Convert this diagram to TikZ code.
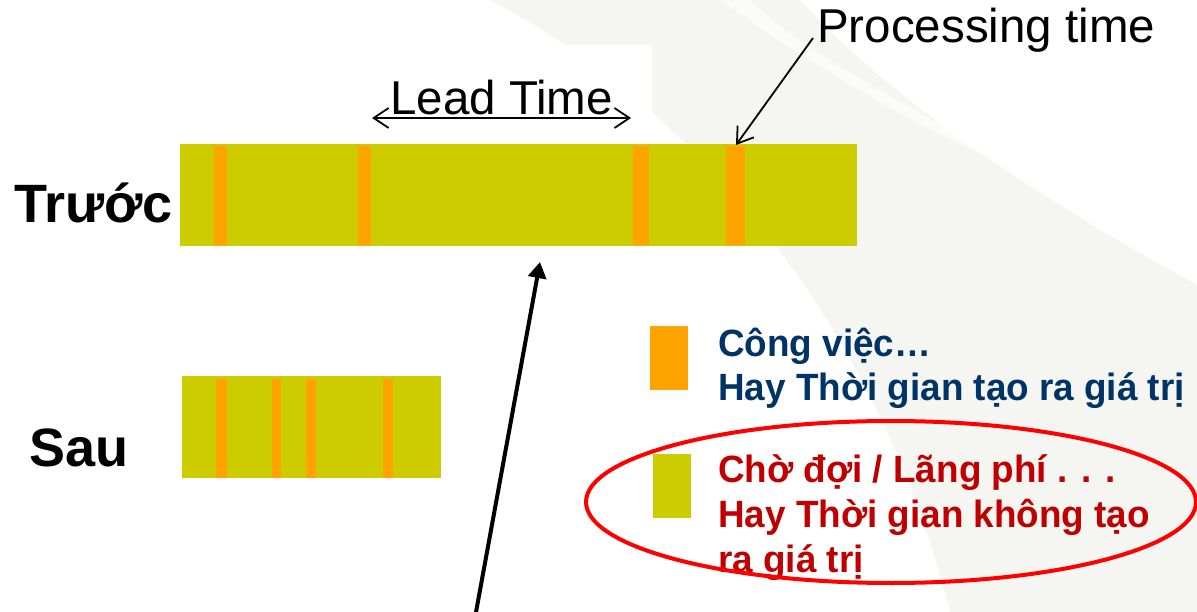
\documentclass[tikz,border=0pt]{standalone}
\usepackage{fontspec}
\setmainfont{Liberation Sans}
\newfontfamily\legfont{Liberation Sans}[FakeStretch=0.97]
\usetikzlibrary{arrows.meta}
\definecolor{barGreen}{RGB}{204,204,0}
\definecolor{barOrange}{RGB}{255,163,0}
\definecolor{legBlue}{RGB}{0,51,102}
\definecolor{legRed}{RGB}{192,0,0}
\definecolor{bgGray}{RGB}{245,246,242}
\begin{document}
\begin{tikzpicture}[x=1pt,y=-1pt,
  barbox/.style={fill=barGreen,draw=none,inner sep=0pt,anchor=north west},
  stripe/.style={fill=barOrange,draw=none},
  biglbl/.style={font=\bfseries\fontsize{54}{60}\selectfont,inner sep=0pt,anchor=base west},
  toplbl/.style={font=\fontsize{47.5}{52}\selectfont,inner sep=0pt,anchor=base west},
  bluelbl/.style={font=\legfont\bfseries\fontsize{38}{44}\selectfont,text=legBlue,inner sep=0pt,anchor=base west},
  redlbl/.style={font=\legfont\bfseries\fontsize{38}{44}\selectfont,text=legRed,inner sep=0pt,anchor=base west},
  barb/.style={line width=1.8pt,{Straight Barb[length=15pt,width=20pt]}-{Straight Barb[length=15pt,width=20pt]}},
  barbone/.style={line width=1.8pt,-{Straight Barb[length=15pt,width=20pt]}},
  bigarrow/.style={line width=4pt,-{Triangle[length=16pt,width=18pt]}}
]
\useasboundingbox (0,0) rectangle (1197,612);
\fill[white] (0,0) rectangle (1197,612);
% background swoosh
\fill[bgGray] (490,0) .. controls (700,110) and (880,330) .. (950,612) -- (1197,612) -- (1197,285) .. controls (1060,210) and (900,110) .. (800,0) -- cycle;
\fill[white,opacity=0.6] (720,0) .. controls (820,70) and (920,130) .. (1010,165) .. controls (900,100) and (800,50) .. (750,0) -- cycle;
\fill[white] (355,45) rectangle (652,140);

% bars
\node[barbox,minimum width=677pt,minimum height=102pt] (before) at (180,144) {};
\fill[stripe] (214,146) rectangle (227,245);
\fill[stripe] (358,146) rectangle (371,245);
\fill[stripe] (633,146) rectangle (649,245);
\fill[stripe] (726,146) rectangle (745,245);
\node[barbox,minimum width=259pt,minimum height=102pt] (after) at (182,376) {};
\fill[stripe] (216,379) rectangle (227,478);
\fill[stripe] (272,379) rectangle (281,478);
\fill[stripe] (306,379) rectangle (316,478);
\fill[stripe] (383,379) rectangle (393,478);

% labels
\node[biglbl] (truoc) at (14,222.5) {Trước};
\node[biglbl] (sau) at (29,466) {Sau};
\node[toplbl] (lead) at (390,115) {Lead Time};
\node[toplbl] (proc) at (817,43) {Processing time};

% arrows
\coordinate (ltL) at (372,118);
\coordinate (ltR) at (631,118);
\draw[barb] (ltL) -- (ltR);
\coordinate (pstart) at (813,38);
\coordinate (ptip) at (736,145);
\draw[barbone] (pstart) -- (ptip);
\coordinate (bstart) at (475.3,616);
\coordinate (btip) at (540,262);
\draw[bigarrow] (bstart) -- (btip);

% legend
\node[fill=barOrange,inner sep=0pt,minimum width=38pt,minimum height=64pt,anchor=north west] (legO) at (650,326) {};
\node[fill=barGreen,inner sep=0pt,minimum width=38pt,minimum height=64pt,anchor=north west] (legG) at (653,454) {};
\node[bluelbl] (b1) at (718,356) {Công việc…};
\node[bluelbl] (b2) at (718,400) {Hay Thời gian tạo ra giá trị};
\node[redlbl] (r1) at (718,482) {Chờ đợi / Lãng phí . . .};
\node[redlbl] (r2) at (718,527) {Hay Thời gian không tạo};
\node[redlbl] (r3) at (718,572) {ra giá trị};
\draw[red,line width=4pt] (891,502) ellipse [x radius=305, y radius=81];
\end{tikzpicture}
\end{document}
